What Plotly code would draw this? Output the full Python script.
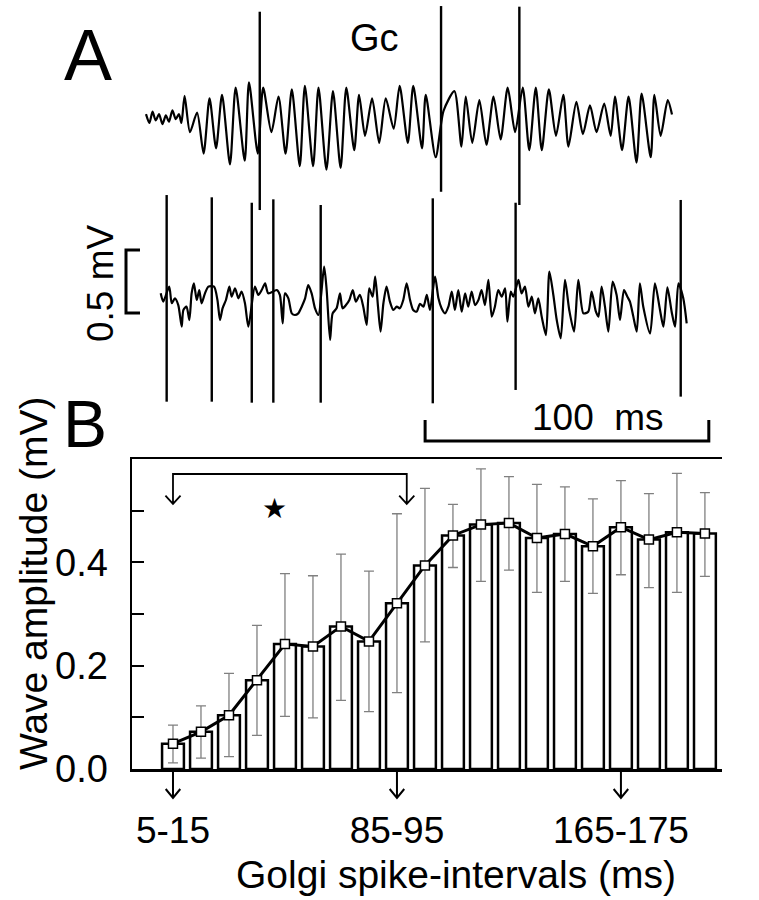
import plotly.graph_objects as go

# ---------------- Panel B data ----------------
categories = ["5-15", "15-25", "25-35", "35-45", "45-55", "55-65", "65-75", "75-85",
              "85-95", "95-105", "105-115", "115-125", "125-135", "135-145", "145-155",
              "155-165", "165-175", "175-185", "185-195", "195-205"]
amplitude = [0.049, 0.072, 0.104, 0.172, 0.242, 0.237, 0.276, 0.247, 0.321, 0.394,
             0.452, 0.473, 0.476, 0.447, 0.455, 0.431, 0.468, 0.444, 0.458, 0.456]
err_upper = [0.085, 0.122, 0.185, 0.278, 0.378, 0.374, 0.416, 0.383, 0.494, 0.543,
             0.512, 0.581, 0.566, 0.551, 0.546, 0.523, 0.558, 0.533, 0.572, 0.535]
err_lower = [0.012, 0.021, 0.024, 0.065, 0.102, 0.099, 0.133, 0.111, 0.148, 0.246,
             0.390, 0.363, 0.385, 0.342, 0.363, 0.340, 0.376, 0.351, 0.342, 0.373]
labelled_ticks = ["5-15", "85-95", "165-175"]
y_ticks = [0.0, 0.2, 0.4]
y_minor = [0.1, 0.3, 0.5]

# ---------------- Panel A data (time ms, potential mV) ----------------
t1_time = [0, 1.2, 2.3, 3.4, 4.6, 5.8, 7.0, 8.1, 9.3, 10.5, 11.6, 12.5,
           13.6, 15.5, 18.0, 20.3, 22.4, 24.7, 26.8, 29.6, 31.6, 34.8,
           36.3, 39.4, 41.3, 44.2, 46.7, 49.2, 51.4, 54.2, 56.0, 58.9,
           60.8, 63.6, 65.9, 68.6, 70.6, 73.4, 75.1, 77.2, 79.7, 82.2,
           84.5, 87.3, 89.4, 92.3, 94.2, 97.3, 98.6, 102.1, 104.9, 108.7,
           111.2, 112.7, 115.0, 117.5, 120.0, 122.5, 125.0, 127.5, 130.1, 132.8,
           135.1, 137.4, 139.5, 142.0, 144.5, 147.1, 148.9, 151.7, 154.0, 156.5,
           158.8, 161.5, 163.8, 165.3, 167.8, 170.1, 172.9, 174.7, 177.9, 179.2,
           181.4, 183.9, 185.4]
t1_mv = [0.03, -0.04, 0.05, -0.02, 0.03, -0.05, 0.02, -0.03, 0.06, -0.01, 0.03, -0.04,
         0.176, -0.113, 0.043, -0.283, 0.156, -0.241, 0.184, -0.368, 0.241, -0.340,
         0.283, -0.283, 0.241, -0.113, 0.170, -0.283, 0.227, -0.383, 0.255, -0.383,
         0.241, -0.411, 0.213, -0.397, 0.241, -0.255, 0.184, -0.142, 0.156, -0.198,
         0.156, -0.085, 0.255, -0.198, 0.255, -0.241, 0.184, -0.312, 0.057, 0.213,
         -0.227, 0.170, -0.198, 0.142, -0.213, 0.170, -0.170, 0.241, -0.113, 0.241,
         -0.255, 0.241, -0.255, 0.227, -0.142, 0.184, -0.227, 0.128, -0.128, 0.099,
         -0.113, 0.113, -0.142, 0.170, -0.255, 0.170, -0.354, 0.193, -0.312, 0.184,
         -0.142, 0.142, 0.028]
t1_spike_time = [40.1, 104.0, 131.6]
t1_spike_top = [0.843, 0.888, 0.883]
t1_spike_bottom = [-0.731, -0.586, -0.691]

t2_time = [0.0, 0.9, 3.0, 3.9, 5.0, 6.2, 7.4, 8.0, 9.1, 10.1,
           10.9, 11.7, 12.7, 13.6, 14.4, 15.6, 16.8, 18.8, 20.0, 20.9,
           21.8, 23.0, 24.2, 25.0, 26.2, 27.4, 28.5, 29.7, 30.9, 33.2,
           34.4, 35.6, 36.8, 37.9, 40.9, 42.0, 43.0, 43.8, 45.0, 46.2,
           47.3, 48.5, 49.7, 50.9, 52.0, 53.2, 54.4, 55.6, 57.6, 58.5,
           59.7, 60.6, 62.0, 63.2, 64.1, 65.3, 66.5, 67.7, 68.8, 70.2,
           71.4, 72.6, 73.5, 74.7, 75.6, 76.6, 77.5, 78.5, 79.6, 80.8,
           82.0, 83.2, 84.3, 85.5, 86.7, 87.9, 89.0, 90.2, 91.4, 92.6,
           93.8, 94.9, 96.7, 97.9, 99.0, 100.2, 101.4, 102.6, 103.7, 104.9,
           106.1, 107.3, 108.4, 109.6, 110.8, 112.0, 113.1, 114.3, 115.5, 116.7,
           117.8, 119.0, 120.2, 121.4, 122.2, 123.4, 124.3, 126.1, 127.2, 128.4,
           129.6, 130.8, 131.9, 133.1, 134.3, 135.8, 137.0, 138.4, 139.6, 141.0,
           142.5, 144.0, 145.7, 147.2, 149.0, 150.7, 151.9, 153.4, 154.3, 155.4,
           156.6, 157.8, 159.3, 160.7, 161.9, 163.3, 164.5, 165.4, 166.6, 167.8,
           168.9, 170.1, 172.5, 174.2, 176.0, 177.2, 178.6, 180.1, 181.3, 182.5,
           184.2, 185.4]
t2_mv = [0.053, -0.013, 0.106, -0.026, 0.013, -0.040, -0.212, -0.079, -0.053, -0.159,
         0.053, 0.132, 0.0, 0.079, -0.026, 0.053, 0.106, 0.106, 0.0, -0.159,
         -0.066, 0.0, 0.106, 0.026, 0.093, 0.013, 0.066, -0.026, -0.212, 0.106,
         0.040, 0.079, 0.132, 0.053, 0.079, 0.040, -0.185, 0.053, 0.013, -0.106,
         -0.119, -0.106, -0.053, 0.013, 0.119, 0.053, -0.066, -0.119, 0.265, 0.079,
         -0.317, -0.106, -0.066, 0.053, -0.066, -0.040, 0.0, 0.079, -0.013, 0.040,
         -0.053, -0.198, 0.093, 0.026, 0.185, -0.053, -0.251, -0.026, 0.106, -0.013,
         -0.079, -0.053, -0.066, 0.0, 0.132, 0.0, -0.079, -0.093, -0.030, -0.053,
         0.040, -0.079, 0.185, 0.013, -0.066, -0.106, -0.053, 0.066, -0.079, 0.079,
         -0.093, 0.053, -0.053, 0.066, -0.040, 0.0, 0.079, -0.040, 0.159, -0.132,
         -0.053, 0.079, 0.026, 0.093, -0.172, 0.066, 0.026, 0.159, 0.053, 0.106,
         -0.053, 0.026, -0.106, 0.013, -0.132, -0.278, 0.225, 0.040, -0.159, -0.304,
         0.159, -0.079, -0.251, 0.159, -0.106, -0.093, 0.066, -0.093, -0.132, 0.106,
         -0.053, -0.251, 0.146, 0.040, -0.159, 0.079, 0.026, -0.013, -0.132, -0.251,
         0.132, -0.053, -0.265, 0.132, -0.079, -0.212, 0.101, -0.093, -0.212, 0.132,
         0.013, -0.185]
t2_spike_time = [2.1, 18.0, 32.1, 39.7, 56.4, 95.9, 125.1, 183.3]
t2_spike_top = [0.833, 0.815, 0.772, 0.799, 0.754, 0.807, 0.772, 0.794]
t2_spike_bottom = [-0.807, -0.807, -0.815, -0.815, -0.815, -0.820, -0.714, -0.767]

scale_ms = 100
scale_mv = 0.5

# ---------------- helpers ----------------
W, H = 759, 900
FONT = "Liberation Sans, Arial, Helvetica, sans-serif"


def px(x):
    return x / W


def py(y):
    return 1 - y / H


def spike_segments(st, top, bot):
    xs, ys = [], []
    for s, a, b in zip(st, top, bot):
        xs += [s, s, None]
        ys += [a, b, None]
    return xs, ys


fig = go.Figure()

# ---- Panel A traces ----
for tt, vv, st, top, bot, xa, ya in [
        (t1_time, t1_mv, t1_spike_time, t1_spike_top, t1_spike_bottom, "x2", "y2"),
        (t2_time, t2_mv, t2_spike_time, t2_spike_top, t2_spike_bottom, "x3", "y3")]:
    fig.add_trace(go.Scatter(x=tt, y=vv, mode="lines", xaxis=xa, yaxis=ya,
                             line=dict(color="black", width=2.2, shape="spline",
                                       smoothing=0.7, simplify=False),
                             hoverinfo="skip"))
    sx, sy = spike_segments(st, top, bot)
    fig.add_trace(go.Scatter(x=sx, y=sy, mode="lines", xaxis=xa, yaxis=ya,
                             line=dict(color="black", width=2.4, simplify=False),
                             hoverinfo="skip"))

# ---- Panel B ----
idx = list(range(len(categories)))
fig.add_trace(go.Bar(x=idx, y=amplitude, width=0.78,
                     marker=dict(color="white", line=dict(color="black", width=2.5)),
                     hoverinfo="skip"))
fig.add_trace(go.Scatter(
    x=idx, y=amplitude, mode="lines+markers",
    line=dict(color="black", width=3),
    marker=dict(symbol="square", size=9, color="white", line=dict(color="black", width=1.5)),
    error_y=dict(type="data", symmetric=False,
                 array=[u - a for u, a in zip(err_upper, amplitude)],
                 arrayminus=[a - l for a, l in zip(amplitude, err_lower)],
                 color="#808080", thickness=1.3, width=5),
    hoverinfo="skip"))

tick_idx = [categories.index(c) for c in labelled_ticks]

shapes = []
# arrows below x axis
for i in tick_idx:
    shapes.append(dict(type="path", xref="x", yref="paper",
                       path=f"M {i},{py(771)} L {i},{py(798)} M {i-0.26},{py(789)} L {i},{py(798)} L {i+0.26},{py(789)}",
                       line=dict(color="black", width=2)))
# significance bracket
b0, b1, by, bt = 0, 8.35, 0.571, 0.513
shapes.append(dict(type="path", xref="x", yref="y",
                   path=(f"M {b0},{bt} L {b0},{by} L {b1},{by} L {b1},{bt} "
                         f"M {b0-0.27},{bt+0.016} L {b0},{bt} L {b0+0.27},{bt+0.016} "
                         f"M {b1-0.27},{bt+0.016} L {b1},{bt} L {b1+0.27},{bt+0.016}"),
                   line=dict(color="black", width=1.8)))
# time scale bar (x3/y3 data units)
sx0 = 93.2
shapes.append(dict(type="path", xref="x3", yref="y3",
                   path=f"M {sx0},-0.952 L {sx0},-1.119 L {sx0+scale_ms},-1.119 L {sx0+scale_ms},-0.952",
                   line=dict(color="black", width=3)))
# voltage scale bar
vy0 = -0.103
shapes.append(dict(type="path", xref="x3", yref="y3",
                   path=f"M -7.3,{vy0+scale_mv} L -12.23,{vy0+scale_mv} L -12.23,{vy0} L -7.3,{vy0}",
                   line=dict(color="black", width=3)))


def label(text, x, y, size, angle=0, family=FONT):
    return dict(text=text, x=px(x), y=py(y), xref="paper", yref="paper", showarrow=False,
                xanchor="center", yanchor="middle", textangle=angle,
                font=dict(size=size, family=family, color="black"))


annotations = [
    label("A", 88, 55, 72),
    label("B", 85, 424, 66),
    label("Gc", 374, 38, 38),
    label("100  ms", 598, 417, 37),
    label("0.5 mV", 100, 283, 37, -90),
    label("Wave amplitude (mV)", 33, 583, 39, -90),
    label("Golgi spike-intervals (ms)", 456, 874, 39),
    dict(text="★", x=3.64, y=0.504, xref="x", yref="y", showarrow=False,
         xanchor="center", yanchor="middle",
         font=dict(size=28, family="DejaVu Sans", color="black")),
]

fig.update_layout(
    width=W, height=H, margin=dict(l=0, r=0, t=0, b=0, autoexpand=False),
    paper_bgcolor="white", plot_bgcolor="rgba(0,0,0,0)",
    showlegend=False, bargap=0,
    font=dict(family=FONT, color="black"),
    shapes=shapes, annotations=annotations,
    xaxis=dict(domain=[px(132), px(722)], range=[-1.464, 19.61], anchor="y",
               showline=True, linecolor="black", linewidth=2.5, mirror=True,
               showgrid=False, zeroline=False, ticks="",
               tickmode="array", tickvals=tick_idx, ticktext=labelled_ticks,
               tickfont=dict(size=37, family=FONT, color="black"),
               ticklabelstandoff=27),
    yaxis=dict(domain=[py(769), py(459)], range=[0, 0.6], anchor="x",
               showline=True, linecolor="black", linewidth=2.5,
               showgrid=False, zeroline=False,
               ticks="inside", ticklen=12, tickwidth=2, tickcolor="black",
               tickmode="array", tickvals=y_ticks, ticktext=[f"{v:.1f}" for v in y_ticks],
               minor=dict(tickmode="array", tickvals=y_minor, ticks="inside",
                          ticklen=12, tickwidth=2, tickcolor="black", showgrid=False),
               tickfont=dict(size=38, family=FONT, color="black"),
               ticklabelstandoff=14),
    xaxis2=dict(domain=[0, 1], range=[-146 / 2.837, 613 / 2.837], anchor="y2", visible=False),
    yaxis2=dict(domain=[0, 1], range=[-6.207, 0.936], anchor="x2", visible=False),
    xaxis3=dict(domain=[0, 1], range=[-160.7 / 2.837, 598.3 / 2.837], anchor="y3", visible=False),
    yaxis3=dict(domain=[0, 1], range=[-4.762, 2.381], anchor="x3", visible=False),
)

fig.write_html("out.html", config={"displayModeBar": False, "staticPlot": True},
               post_script="document.body.style.margin='0';document.body.style.overflow='hidden';")
